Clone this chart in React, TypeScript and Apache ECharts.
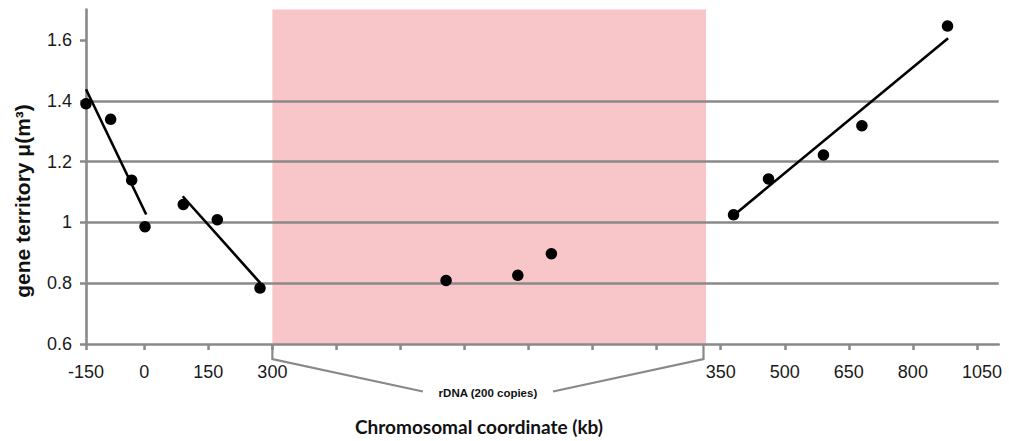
import React, { useEffect, useRef } from "react";
import * as echarts from "echarts";

// ---- Data (x in plot-position units: one unit per axis tick) ----
const yMin = 0.6;
const yMax = 1.7;
const yTickValues = [0.6, 0.8, 1.0, 1.2, 1.4, 1.6];

const xMin = 0.09;
const xMax = 14.34;
const xTickPositions = [0.09, 1, 2, 3, 4, 5, 6, 7, 8, 9, 10, 11, 12, 13, 14];
const xLabelPositions = [0.09, 1, 2, 3, 10, 11, 12, 13, 14.08];
const xLabelTexts = ["-150", "0", "150", "300", "350", "500", "650", "800", "1050"];

const pointX = [0.09, 0.475, 0.803, 1.011, 1.609, 2.14, 2.807, 5.712, 6.832, 7.356, 10.2, 10.746, 11.604, 12.204, 13.541];
const pointY = [1.39, 1.339, 1.139, 0.986, 1.059, 1.009, 0.784, 0.809, 0.826, 0.897, 1.025, 1.143, 1.222, 1.318, 1.646];

const trendA = [[0.09, 1.438], [1.03, 1.026]];
const trendB = [[1.6, 1.086], [2.81, 0.801]];
const trendC = [[10.2, 1.023], [13.55, 1.606]];

const rdnaRegion = [3.0, 9.77];
const rdnaLabel = "rDNA (200 copies)";

const xTitle = "Chromosomal coordinate (kb)";
const yTitle = "gene territory μ(m³)";

const GRAY = "#898989";
const PINK = "#f8c6c8";
const TEXT = "#1a1a1a";
const ARIAL = "Arial, 'Liberation Sans', sans-serif";

export default function App() {
  const ref = useRef<HTMLDivElement>(null);

  useEffect(() => {
    document.body.style.margin = "0";
    const chart = echarts.init(ref.current!, null, { renderer: "svg" });

    const scatterData = pointX.map((x, i) => [x, pointY[i]]);

    const lineSeries = [trendA, trendB, trendC].map((d) => ({
      type: "line",
      data: d,
      symbol: "none",
      lineStyle: { color: "#000", width: 2.6 },
      z: 3,
      silent: true,
    }));

    const option: any = {
      animation: false,
      backgroundColor: "#fff",
      grid: { left: 86, right: 10.3, top: 9.6, bottom: 97, containLabel: false },
      xAxis: {
        type: "value",
        min: xMin,
        max: xMax,
        axisLine: { show: true, onZero: false, lineStyle: { color: GRAY, width: 2.6 } },
        axisTick: {
          show: true,
          customValues: xTickPositions,
          length: 6,
          lineStyle: { color: GRAY, width: 2.5 },
        },
        axisLabel: {
          customValues: xLabelPositions,
          margin: 19,
          fontSize: 18,
          fontFamily: ARIAL,
          color: TEXT,
          formatter: (v: number) => {
            let best = 0;
            let bd = Infinity;
            xLabelPositions.forEach((p, i) => {
              const d = Math.abs(p - v);
              if (d < bd) { bd = d; best = i; }
            });
            return xLabelTexts[best];
          },
        },
        splitLine: { show: false },
      },
      yAxis: {
        type: "value",
        min: yMin,
        max: yMax,
        interval: 0.2,
        axisLine: { show: true, onZero: false, lineStyle: { color: GRAY, width: 2.6 } },
        axisTick: {
          show: true,
          customValues: yTickValues,
          length: 6,
          lineStyle: { color: GRAY, width: 2.5 },
        },
        axisLabel: {
          customValues: yTickValues,
          margin: 14,
          fontSize: 18,
          fontFamily: ARIAL,
          color: TEXT,
          formatter: (v: number) => String(Math.round(v * 10) / 10),
        },
        splitLine: {
          show: true,
          showMinLine: false,
          showMaxLine: false,
          lineStyle: { color: GRAY, width: 2.6 },
        },
      },
      graphic: [
        {
          type: "text",
          left: 355,
          top: 417,
          style: {
            text: xTitle,
            font: "bold 19px Lato, sans-serif",
            fill: "#111",
          },
        },
        {
          type: "text",
          x: 22,
          y: 201,
          rotation: Math.PI / 2,
          style: {
            text: yTitle,
            font: "bold 21px Arial, 'Liberation Sans', sans-serif",
            fill: "#111",
            textAlign: "center",
            textVerticalAlign: "middle",
            align: "center",
            verticalAlign: "middle",
          },
        },
      ],
      series: [
        {
          type: "custom",
          z: -1,
          silent: true,
          clip: false,
          data: [[rdnaRegion[0], rdnaRegion[1]]],
          renderItem: (params: any, api: any) => {
            const p0 = api.coord([api.value(0), yMax]);
            const p1 = api.coord([api.value(1), yMin]);
            return {
              type: "rect",
              shape: { x: p0[0], y: p0[1], width: p1[0] - p0[0], height: p1[1] - p0[1] },
              style: { fill: PINK },
            };
          },
        },
        {
          type: "custom",
          z: 3,
          silent: true,
          clip: false,
          data: [[rdnaRegion[0], rdnaRegion[1]]],
          renderItem: (params: any, api: any) => {
            const a = api.coord([api.value(0), yMin]);
            const b = api.coord([api.value(1), yMin]);
            const xs = a[0];
            const xe = b[0] - 2.5;
            const y0 = a[1];
            const mid = (xs + xe) / 2;
            const ly = y0 + 48.5;
            const lineStyle = { stroke: GRAY, lineWidth: 2.2, fill: "none" };
            return {
              type: "group",
              children: [
                {
                  type: "polyline",
                  shape: { points: [[xs, y0], [xs, y0 + 15], [mid - 65, ly - 1]] },
                  style: lineStyle,
                },
                {
                  type: "polyline",
                  shape: { points: [[xe, y0], [xe, y0 + 15], [mid + 65, ly - 1]] },
                  style: lineStyle,
                },
                {
                  type: "text",
                  style: {
                    text: rdnaLabel,
                    x: mid,
                    y: ly,
                    font: "bold 11.5px Arial, 'Liberation Sans', sans-serif",
                    fill: "#111",
                    textAlign: "center",
                    textVerticalAlign: "middle",
                    align: "center",
                    verticalAlign: "middle",
                  },
                },
              ],
            };
          },
        },
        ...lineSeries,
        {
          type: "scatter",
          data: scatterData,
          symbol: "circle",
          symbolSize: 11.5,
          itemStyle: { color: "#000", opacity: 1 },
          z: 4,
          silent: true,
        },
      ],
    };

    chart.setOption(option);
    return () => chart.dispose();
  }, []);

  return <div ref={ref} style={{ width: 1009, height: 441 }} />;
}
